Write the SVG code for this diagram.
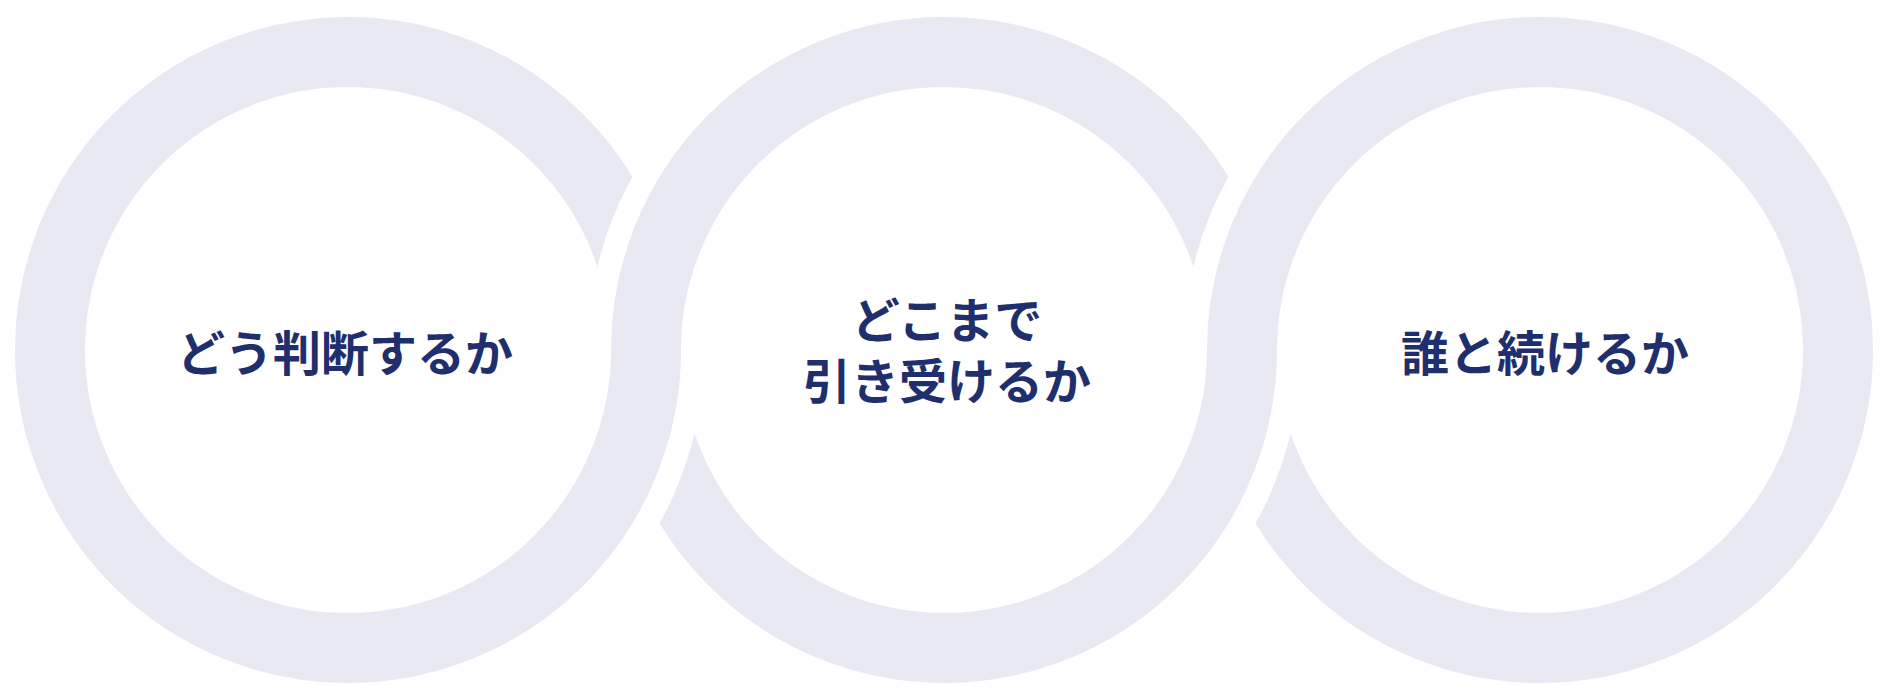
<svg xmlns="http://www.w3.org/2000/svg" xmlns:xlink="http://www.w3.org/1999/xlink" width="1890" height="700" viewBox="0 0 1890 700">
  <style>
    .band { fill: none; stroke: #e8e9f3; stroke-width: 70; }
    .halo { fill: none; stroke: #ffffff; stroke-width: 24; }
    .label { font-family: "Noto Sans CJK JP", "Noto Sans CJK SC", sans-serif; font-weight: 700; font-size: 48px; fill: #1f2f6d; text-anchor: middle; }
  </style>
  <defs>
    <clipPath id="topHalf"><rect x="0" y="0" width="1890" height="350"/></clipPath>
    <clipPath id="bottomHalf"><rect x="0" y="350" width="1890" height="350"/></clipPath>
    <g id="ring">
      <circle class="halo" cx="0" cy="0" r="344.5"/>
      <circle class="band" cx="0" cy="0" r="298"/>
    </g>
  </defs>
  <rect x="0" y="0" width="1890" height="700" fill="#ffffff"/>
  <g id="connectors">
    <g id="rings-top" clip-path="url(#topHalf)">
      <use xlink:href="#ring" href="#ring" x="348" y="350"/>
      <use xlink:href="#ring" href="#ring" x="944" y="350"/>
      <use xlink:href="#ring" href="#ring" x="1540" y="350"/>
    </g>
    <g id="rings-bottom" clip-path="url(#bottomHalf)">
      <use xlink:href="#ring" href="#ring" x="1540" y="350"/>
      <use xlink:href="#ring" href="#ring" x="944" y="350"/>
      <use xlink:href="#ring" href="#ring" x="348" y="350"/>
    </g>
  </g>
  <g id="node-1">
    <text class="label" x="345" y="371">どう判断するか</text>
  </g>
  <g id="node-2">
    <text class="label" x="947" y="338"><tspan x="947" y="338">どこまで</tspan><tspan x="947" y="399">引き受けるか</tspan></text>
  </g>
  <g id="node-3">
    <text class="label" x="1545" y="371">誰と続けるか</text>
  </g>
</svg>
